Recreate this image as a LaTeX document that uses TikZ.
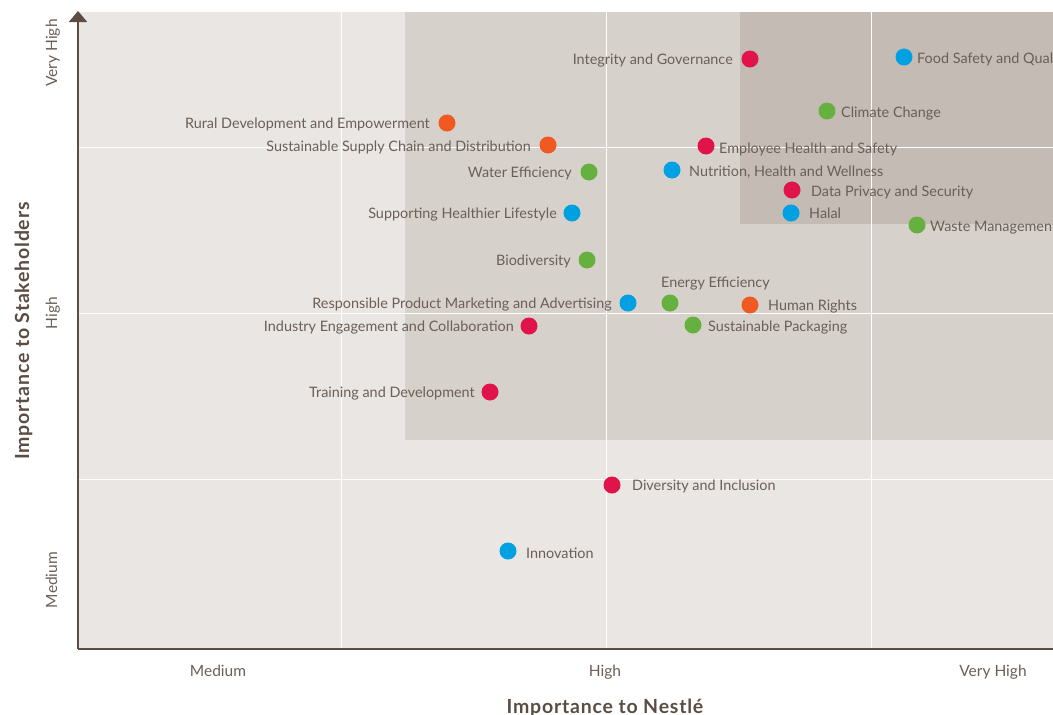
\documentclass[tikz,border=0pt]{standalone}
\usepackage{fontspec}
\setmainfont{Lato}
\newfontfamily\titlefont[LetterSpace=4]{Lato}
\usetikzlibrary{arrows.meta}
\definecolor{bgA}{HTML}{E9E6E3}
\definecolor{bgB}{HTML}{D6D1CB}
\definecolor{bgC}{HTML}{C3BBB4}
\definecolor{cred}{HTML}{E0134B}
\definecolor{cblue}{HTML}{00A0E2}
\definecolor{cgreen}{HTML}{66B040}
\definecolor{corange}{HTML}{F05A22}
\definecolor{ctext}{HTML}{6B5F57}
\definecolor{caxis}{HTML}{5B4D42}
\tikzset{
  dot/.style={circle, fill=#1, minimum size=17pt, inner sep=0pt},
  lbl/.style={text=ctext, font=\fontsize{14.4}{16}\selectfont, inner sep=0pt},
  tick/.style={text=ctext, font=\fontsize{15.5}{17}\selectfont, inner sep=0pt},
  axtitle/.style={text=caxis, font=\titlefont\fontsize{19.5}{21}\selectfont\bfseries, inner sep=0pt},
  grid/.style={draw=white, line width=1pt},
  axisline/.style={draw=caxis, line width=2pt},
}
\begin{document}
\begin{tikzpicture}[x=1pt,y=-1pt]
\useasboundingbox (0,0) rectangle (1053,715);
% backgrounds
\fill[bgA] (78,12) rectangle (1053,649);
\fill[bgB] (405,12) rectangle (1053,440);
\fill[bgC] (740,12) rectangle (1053,224);
% grid
\foreach \gx in {341,606,871} \draw[grid] (\gx,12) -- (\gx,648);
\foreach \gy in {147,313,479} \draw[grid] (79,\gy) -- (1053,\gy);
% axes
\coordinate (O) at (78,649);
\coordinate (ytop) at (78,11);
\coordinate (xend) at (1060,649);
\draw[axisline, -{Triangle[length=11pt,width=18pt]}] (O) -- (ytop);
\draw[axisline] (O) -- (xend);
% tick labels
\node[tick, anchor=base] (xm) at (218,676) {Medium};
\node[tick, anchor=base] (xh) at (605,676) {High};
\node[tick, anchor=base] (xv) at (993,676) {Very High};
\node[tick, rotate=90, anchor=base] (ym) at (57,580) {Medium};
\node[tick, rotate=90, anchor=base] (yh) at (57,313) {High};
\node[tick, rotate=90, anchor=base] (yv) at (57,53) {Very High};
\node[axtitle, anchor=base] (xt) at (605,713) {Importance to Nestlé};
\node[axtitle, rotate=90, anchor=base] (yt) at (29,331) {Importance to Stakeholders};
% points
\node[dot=cred] (ig) at (750,59) {};
\node[lbl, anchor=base east] (igl) at (733,64) {Integrity and Governance};
\node[dot=cblue] (fs) at (904,57) {};
\node[lbl, anchor=base west] (fsl) at (917,63) {Food Safety and Quality};
\node[dot=cgreen] (cc) at (827,111) {};
\node[lbl, anchor=base west] (ccl) at (841,117) {Climate Change};
\node[dot=corange] (rd) at (447,123) {};
\node[lbl, anchor=base east] (rdl) at (430,128) {Rural Development and Empowerment};
\node[dot=corange] (ss) at (548,145) {};
\node[lbl, anchor=base east] (ssl) at (531,151) {Sustainable Supply Chain and Distribution};
\node[dot=cred] (eh) at (706,146) {};
\node[lbl, anchor=base west] (ehl) at (719,153) {Employee Health and Safety};
\node[dot=cgreen] (we) at (589,172) {};
\node[lbl, anchor=base east] (wel) at (572,177) {Water Efficiency};
\node[dot=cblue] (nh) at (672,170) {};
\node[lbl, anchor=base west] (nhl) at (689,176) {Nutrition, Health and Wellness};
\node[dot=cred] (dp) at (792,190) {};
\node[lbl, anchor=base west] (dpl) at (811,196) {Data Privacy and Security};
\node[dot=cblue] (sh) at (572,213) {};
\node[lbl, anchor=base east] (shl) at (557,218) {Supporting Healthier Lifestyle};
\node[dot=cblue] (ha) at (791,213) {};
\node[lbl, anchor=base west] (hal) at (809,218) {Halal};
\node[dot=cgreen] (wm) at (917,225) {};
\node[lbl, anchor=base west] (wml) at (930,231) {Waste Management};
\node[dot=cgreen] (bd) at (587,260) {};
\node[lbl, anchor=base east] (bdl) at (571,265) {Biodiversity};
\node[dot=cblue] (rp) at (628,303) {};
\node[lbl, anchor=base east] (rpl) at (612,308) {Responsible Product Marketing and Advertising};
\node[dot=cgreen] (ee) at (670,303) {};
\node[lbl, anchor=base west] (eel) at (661,287) {Energy Efficiency};
\node[dot=corange] (hr) at (750,305) {};
\node[lbl, anchor=base west] (hrl) at (768,310) {Human Rights};
\node[dot=cred] (ie) at (529,326) {};
\node[lbl, anchor=base east] (iel) at (514,331) {Industry Engagement and Collaboration};
\node[dot=cgreen] (sp) at (693,325) {};
\node[lbl, anchor=base west] (spl) at (708,331) {Sustainable Packaging};
\node[dot=cred] (td) at (490,392) {};
\node[lbl, anchor=base east] (tdl) at (475,397) {Training and Development};
\node[dot=cred] (di) at (612,485) {};
\node[lbl, anchor=base west] (dil) at (632,490) {Diversity and Inclusion};
\node[dot=cblue] (in) at (508,551) {};
\node[lbl, anchor=base west] (inl) at (526,558) {Innovation};
\end{tikzpicture}
\end{document}
